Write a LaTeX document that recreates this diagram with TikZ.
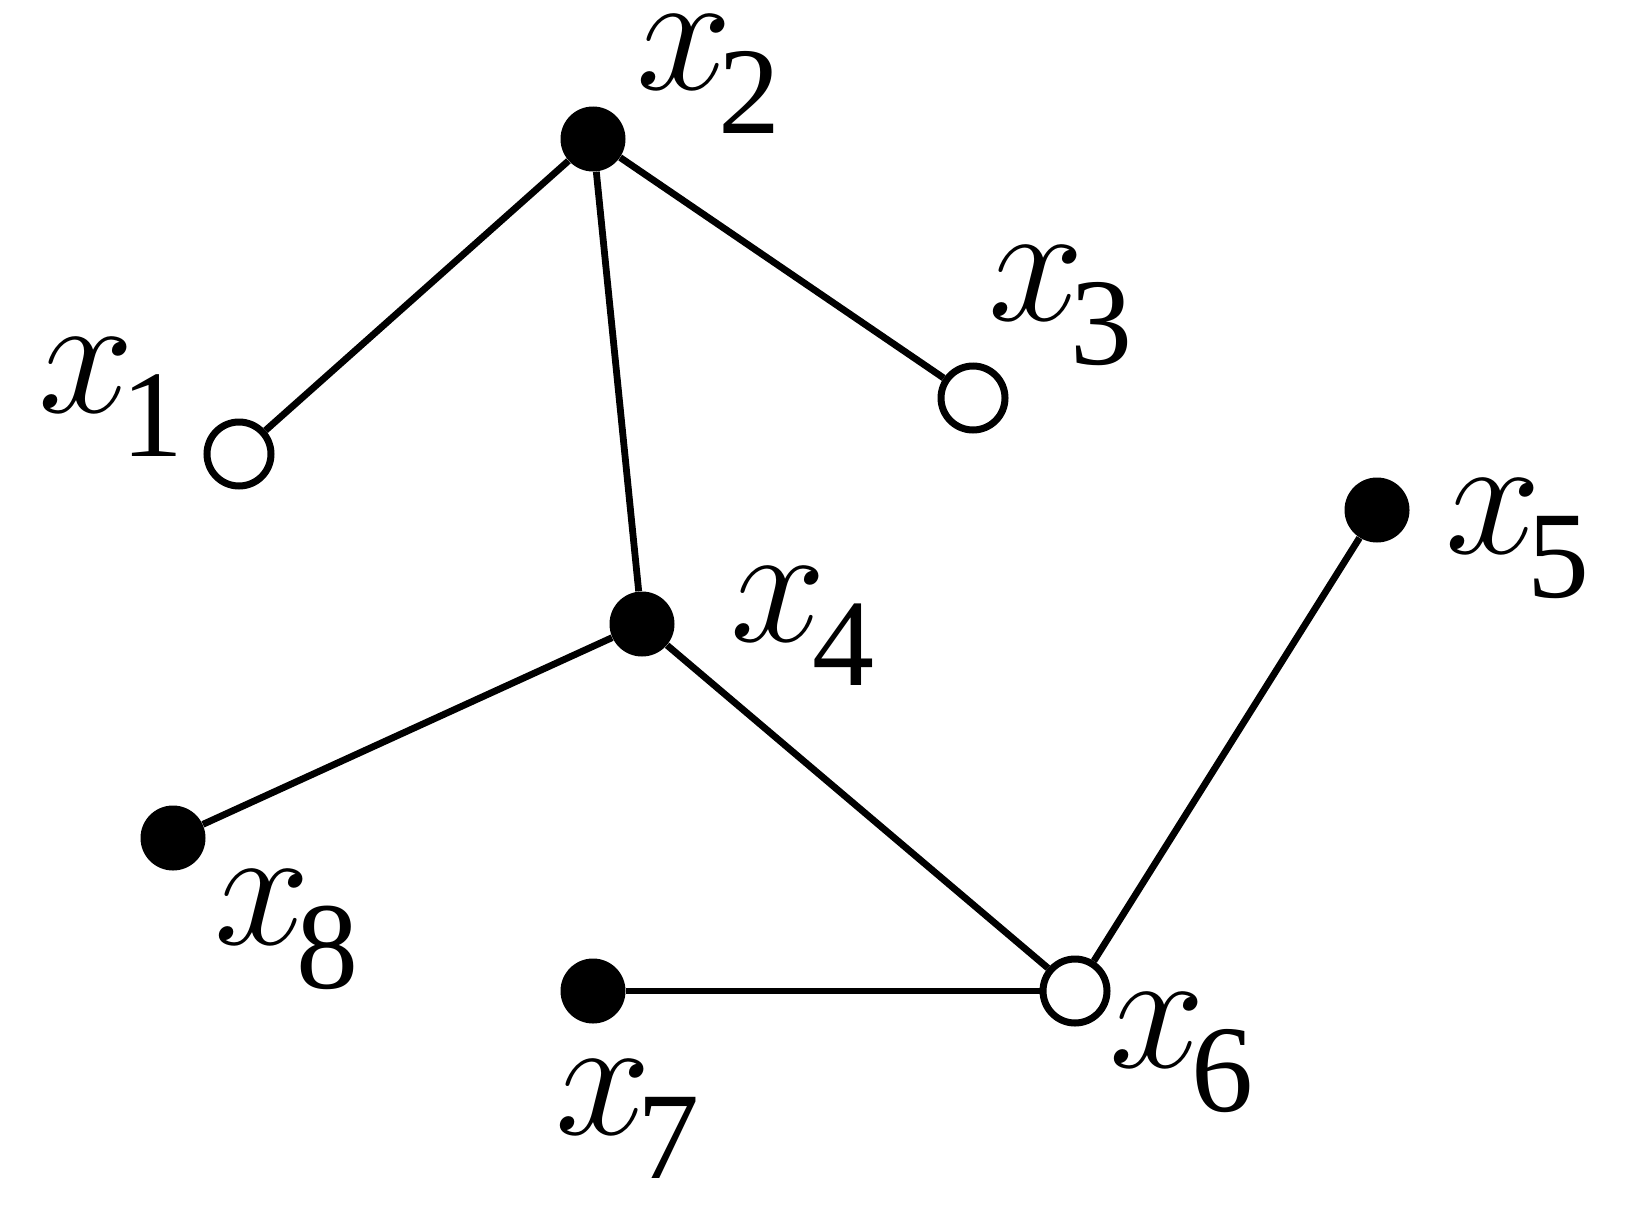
\RequirePackage{fix-cm}
\documentclass[tikz,border=0pt]{standalone}
\usepackage{fontspec}
\setmainfont{Liberation Serif}
\newcommand\xlab[1]{{\fontsize{86}{90}\selectfont$x$}\kern-6.5pt\raisebox{-22pt}{\fontsize{62}{64}\selectfont #1}}
\begin{document}
\begin{tikzpicture}[x=0.5pt,y=-0.5pt,
  filledv/.style={circle,fill=black,draw=none,minimum size=32.5pt,inner sep=0pt},
  openv/.style={circle,fill=white,draw=black,line width=3.5pt,minimum size=32pt,inner sep=0pt},
  edge/.style={line width=3.4pt},
  lab/.style={anchor=base west,inner sep=0pt,outer sep=0pt}]
\useasboundingbox (0,0) rectangle (1636,1204);
\node[filledv] (v2) at (593,139) {};
\node[openv] (v1) at (239,454) {};
\node[openv] (v3) at (973,398) {};
\node[filledv] (v4) at (642,624) {};
\node[filledv] (v5) at (1377,510) {};
\node[filledv] (v8) at (173,838) {};
\node[filledv] (v7) at (593,991) {};
\node[openv] (v6) at (1075,991) {};
\draw[edge] (v2) -- (v1);
\draw[edge] (v2) -- (v3);
\draw[edge] (v2) -- (v4);
\draw[edge] (v4) -- (v8);
\draw[edge] (v4) -- (v6);
\draw[edge] (v5) -- (v6);
\draw[edge] (v7) -- (v6);
\node[lab] (l1) at (39,412) {\xlab{1}};
\node[lab] (l2) at (636,90) {\xlab{2}};
\node[lab] (l3) at (988,320) {\xlab{3}};
\node[lab] (l4) at (730,641) {\xlab{4}};
\node[lab] (l5) at (1445,553) {\xlab{5}};
\node[lab] (l6) at (1109,1067) {\xlab{6}};
\node[lab] (l7) at (555,1134) {\xlab{7}};
\node[lab] (l8) at (214,944) {\xlab{8}};
\end{tikzpicture}
\end{document}
